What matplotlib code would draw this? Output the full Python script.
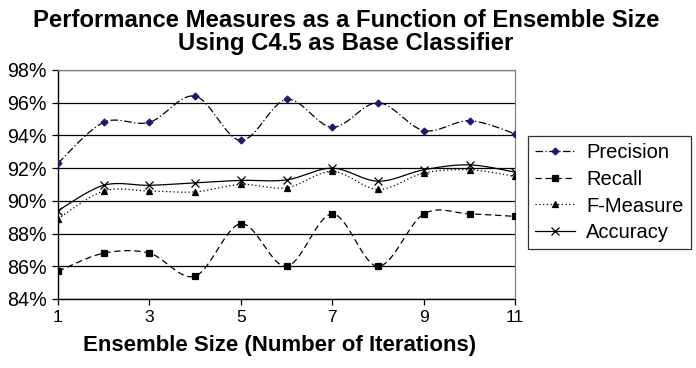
import numpy as np
import matplotlib
matplotlib.use("Agg")
import matplotlib.pyplot as plt
from matplotlib.lines import Line2D

plt.rcParams['font.family'] = ['Liberation Sans', 'DejaVu Sans']

ensemble_size = [1, 2, 3, 4, 5, 6, 7, 8, 9, 10, 11]
precision = [92.3, 94.8, 94.8, 96.4, 93.7, 96.2, 94.5, 96.0, 94.3, 94.9, 94.1]
recall = [85.7, 86.8, 86.8, 85.4, 88.6, 86.0, 89.2, 86.0, 89.2, 89.2, 89.05]
f_measure = [88.9, 90.6, 90.6, 90.55, 91.0, 90.8, 91.8, 90.7, 91.7, 91.9, 91.5]
accuracy = [89.4, 90.95, 90.95, 91.1, 91.25, 91.28, 92.0, 91.2, 91.9, 92.2, 91.75]
y_ticks = [84, 86, 88, 90, 92, 94, 96, 98]
x_ticks = [1, 3, 5, 7, 9, 11]


def smooth(x, y, n=30, t=0.5):
    """Cardinal-spline rendering of a line through the data points."""
    x = np.asarray(x, float)
    y = np.asarray(y, float)
    px = np.concatenate([[x[0]], x, [x[-1]]])
    py = np.concatenate([[y[0]], y, [y[-1]]])
    xs, ys = [], []
    for i in range(1, len(px) - 2):
        p0, p1, p2, p3 = (np.array([px[j], py[j]]) for j in (i - 1, i, i + 1, i + 2))
        m1 = t * (p2 - p0)
        m2 = t * (p3 - p1)
        s = np.linspace(0, 1, n)
        h00 = 2 * s**3 - 3 * s**2 + 1
        h10 = s**3 - 2 * s**2 + s
        h01 = -2 * s**3 + 3 * s**2
        h11 = s**3 - s**2
        pts = (np.outer(h00, p1) + np.outer(h10, m1) + np.outer(h01, p2) + np.outer(h11, m2))
        xs.extend(pts[:, 0])
        ys.extend(pts[:, 1])
    return np.array(xs), np.array(ys)


fig = plt.figure(figsize=(6.96, 3.68), dpi=100)
ax = fig.add_axes([0.0833, 0.1875, 0.657, 0.6223])

series = [
    ("Precision", precision, (0, (6, 2, 1, 2)), 'D', '#1a1a6e', 3.5),
    ("Recall", recall, (0, (5, 3)), 's', 'black', 4.5),
    ("F-Measure", f_measure, (0, (1, 2)), '^', 'black', 5),
    ("Accuracy", accuracy, '-', 'x', 'black', 6),
]

handles = []
for name, vals, ls, mk, mc, ms in series:
    sx, sy = smooth(ensemble_size, vals)
    ax.plot(sx, sy, color='black', linestyle=ls, linewidth=0.9, zorder=3)
    ax.plot(ensemble_size, vals, linestyle='none', marker=mk, markersize=ms,
            markerfacecolor=mc, markeredgecolor=mc if mk != 'x' else 'black',
            markeredgewidth=0.9, zorder=4)
    handles.append(Line2D([], [], color='black', linestyle=ls, linewidth=0.9,
                          marker=mk, markersize=ms, markerfacecolor=mc,
                          markeredgecolor=mc if mk != 'x' else 'black', markeredgewidth=0.9))

ax.set_xlim(1, 11)
ax.set_ylim(84, 98)
ax.set_yticks(y_ticks)
ax.set_yticklabels([f"{v}%" for v in y_ticks], fontsize=14.2)
ax.set_xticks(x_ticks)
ax.set_xticklabels([str(v) for v in x_ticks], fontsize=12.5)
ax.grid(axis='y', color='black', linewidth=0.9)
ax.tick_params(axis='both', direction='out', length=4, width=0.9, color='black')
ax.tick_params(axis='y', pad=4)
ax.tick_params(axis='x', pad=4)
for sp in ['top', 'right']:
    ax.spines[sp].set_color('#808080')
    ax.spines[sp].set_linewidth(0.9)
for sp in ['left', 'bottom']:
    ax.spines[sp].set_color('black')
    ax.spines[sp].set_linewidth(1.0)

ax.set_xlabel("Ensemble Size (Number of Iterations)", fontsize=16.0, fontweight='bold',
              labelpad=7, x=0.484)
fig.text(0.497, 0.975, "Performance Measures as a Function of Ensemble Size\nUsing C4.5 as Base Classifier",
         ha='center', va='top', fontsize=17.2, fontweight='bold', linespacing=1.0)

leg = fig.legend(handles, [s[0] for s in series], loc='upper left',
                 bbox_to_anchor=(0.7586, 0.63), fontsize=14.5, frameon=True,
                 fancybox=False, edgecolor='black', handlelength=2.0,
                 labelspacing=0.38, borderpad=0.35, handletextpad=0.55,
                 borderaxespad=0)
leg.get_frame().set_linewidth(0.9)

fig.savefig("out.png", dpi=100)
